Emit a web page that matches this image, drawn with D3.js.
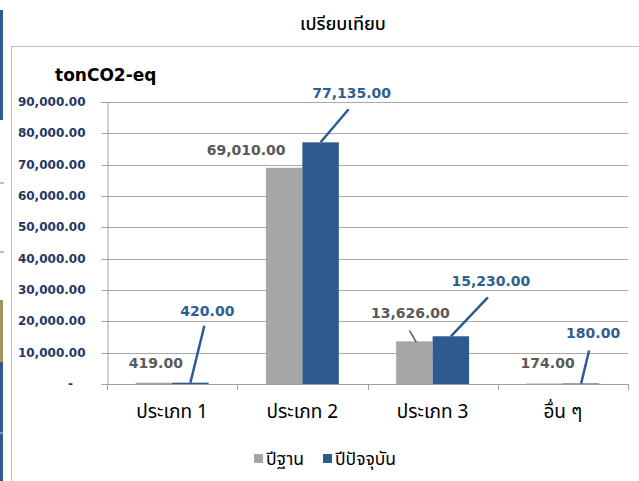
<!DOCTYPE html>
<html><head><meta charset="utf-8">
<script src="https://cdn.jsdelivr.net/npm/d3@7"></script>
<style>body{margin:0;background:#fff}svg{display:block}</style>
</head><body><svg id="c" width="639" height="481"></svg>
<script>
const categories = ["ประเภท 1", "ประเภท 2", "ประเภท 3", "อื่น ๆ"];
const seriesNames = ["ปีฐาน", "ปีปัจจุบัน"];
const baseYear = [419, 69010, 13626, 174];
const currentYear = [420, 77135, 15230, 180];
const yTicks = [0, 10000, 20000, 30000, 40000, 50000, 60000, 70000, 80000, 90000];
const title = "เปรียบเทียบ";
const unit = "tonCO2-eq";

// layout (label offsets relative to bar top centre)
const labelOff = [
  [{dx:2,dy:-20},{dx:17,dy:-72,lx:14,ly:-57}],
  [{dx:-38,dy:-18},{dx:31,dy:-49,lx:28,ly:-33}],
  [{dx:-4,dy:-28,lx0:2,ly0:1,lx:-5,ly:-11},{dx:40,dy:-55,lx:37,ly:-39}],
  [{dx:3,dy:-20},{dx:12,dy:-50,lx:8,ly:-33}]
];
const colors = ["#A6A6A6", "#2D5B91"];
const labelColors = ["#595959", "#2F5E90"];
const thai = "'Noto Sans Thai','Tahoma','Loma','Garuda','Noto Sans',sans-serif";
const bold = "'DejaVu Sans','Verdana',sans-serif";

const svg = d3.select("#c");
const m = {l:107, r:628, t:102, b:384};

// page decorations (frame + left strips)
svg.append("rect").attr("x",11.5).attr("y",46.5).attr("width",700).attr("height",500)
  .attr("fill","none").attr("stroke","#BDBDBD").attr("stroke-width",1);
svg.append("rect").attr("x",0).attr("y",10).attr("width",3).attr("height",110).attr("fill","#2D5B91");
svg.append("rect").attr("x",0).attr("y",300).attr("width",3).attr("height",62).attr("fill","#A09462");
svg.append("rect").attr("x",0).attr("y",362).attr("width",3).attr("height",119).attr("fill","#2D5B91");
[183,252].forEach(y=>svg.append("line").attr("x1",0).attr("x2",4).attr("y1",y).attr("y2",y).attr("stroke","#6F86A8").attr("stroke-width",1));
svg.append("line").attr("x1",0).attr("x2",3).attr("y1",433).attr("y2",433).attr("stroke","#C9D4E4");

const y = d3.scaleLinear().domain([0,90000]).range([m.b,m.t]);
const x0 = d3.scaleBand().domain(categories).range([m.l,m.r]).paddingInner(0.44).paddingOuter(0.22);
const x1 = d3.scaleBand().domain([0,1]).range([0,x0.bandwidth()]);
const xAxisScale = d3.scaleBand().domain(categories).range([m.l,m.r]);

// gridlines
svg.append("g").selectAll("line").data(yTicks.filter(d=>d>0)).join("line")
  .attr("x1",m.l).attr("x2",m.r).attr("y1",d=>Math.round(y(d))+0.5).attr("y2",d=>Math.round(y(d))+0.5)
  .attr("stroke","#A8A8A8").attr("stroke-width",1);

// y axis
const fmt = d3.format(",.2f");
const yAxis = svg.append("g").attr("transform",`translate(${m.l+0.5},0)`)
  .call(d3.axisLeft(y).tickValues(yTicks).tickSize(6).tickPadding(16)
    .tickFormat(d=> d===0 ? "-   " : fmt(d)));
yAxis.select(".domain").attr("stroke","#A0A0A0");
yAxis.selectAll(".tick line").attr("stroke","#A0A0A0");
yAxis.selectAll(".tick").attr("transform",d=>`translate(0,${Math.round(y(d))+0.5})`);
yAxis.selectAll("text").attr("fill","#1F3864").attr("font-family",bold).attr("font-weight","bold")
  .attr("font-size",12).style("white-space","pre");

// bars
const bars = [];
categories.forEach((c,i)=>{
  [baseYear[i],currentYear[i]].forEach((v,j)=>bars.push({c,i,j,v}));
});
svg.append("g").selectAll("rect").data(bars).join("rect")
  .attr("x",d=>x0(d.c)+x1(d.j)).attr("width",x1.bandwidth())
  .attr("y",d=>y(d.v)).attr("height",d=>Math.max(1.5,y(0)-y(d.v)))
  .attr("fill",d=>colors[d.j]);

// x axis
const xAxis = svg.append("g").attr("transform",`translate(0,${m.b+0.5})`)
  .call(d3.axisBottom(xAxisScale).tickSize(0).tickPadding(20));
xAxis.select(".domain").attr("stroke","#A0A0A0").attr("d",`M${m.l-2},0H${m.r}`);
xAxis.selectAll("text").attr("fill","#000").attr("font-family",thai).attr("font-size",19);
xAxis.selectAll(".tick line").remove();
const bounds = categories.map(c=>xAxisScale(c)).concat([m.r]);
svg.append("g").selectAll("line").data(bounds).join("line")
  .attr("x1",d=>Math.round(d)+0.5).attr("x2",d=>Math.round(d)+0.5).attr("y1",m.b).attr("y2",m.b+6)
  .attr("stroke","#A0A0A0");

// leaders + labels
const lab = svg.append("g");
bars.forEach(d=>{
  const o = labelOff[d.i][d.j];
  const cx = x0(d.c)+x1(d.j)+x1.bandwidth()/2;
  const ty = y(d.v);
  if (o.lx!==undefined){
    lab.append("line").attr("x1",cx+(o.lx0||0)).attr("y1",ty+(o.ly0||0)).attr("x2",cx+o.lx).attr("y2",ty+o.ly)
      .attr("stroke", d.j===1 ? "#2D5B91" : "#595959").attr("stroke-width", d.j===1 ? 2.5 : 1.5);
  }
  lab.append("text").attr("x",cx+o.dx).attr("y",ty+o.dy).attr("dy","0.36em")
    .attr("text-anchor","middle").attr("font-family",bold).attr("font-weight","bold").attr("font-size",14)
    .attr("fill",labelColors[d.j]).text(fmt(d.v));
});

// title & unit
svg.append("text").attr("x",343).attr("y",24).attr("dy","0.35em").attr("text-anchor","middle")
  .attr("font-family",thai).attr("font-size",18).attr("font-weight",500).attr("fill","#000").text(title);
svg.append("text").attr("x",55).attr("y",75).attr("dy","0.36em")
  .attr("font-family",bold).attr("font-weight","bold").attr("font-size",17).attr("fill","#000").text(unit);

// legend
const legX = [254, 323];
seriesNames.forEach((s,j)=>{
  svg.append("rect").attr("x",legX[j]).attr("y",454).attr("width",9).attr("height",9).attr("fill",colors[j]);
  svg.append("text").attr("x",legX[j]+12).attr("y",459).attr("dy","0.36em")
    .attr("font-family",thai).attr("font-size",17.5).attr("fill","#000").text(s);
});
</script></body></html>
